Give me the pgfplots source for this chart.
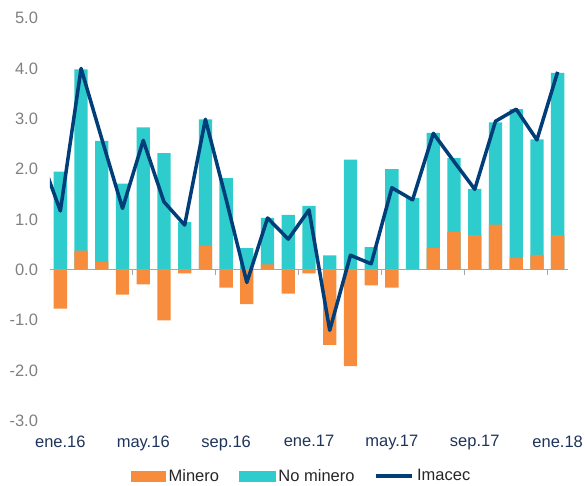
\documentclass[border=0pt]{standalone}
\usepackage{pgfplots}
\pgfplotsset{compat=1.18}
\usepackage{pgfplotstable}
\usepackage{fontspec}
\setmainfont{Liberation Sans}
\definecolor{orangec}{RGB}{247,140,60}
\definecolor{cyanc}{RGB}{46,204,204}
\definecolor{imacec}{RGB}{0,61,121}
\definecolor{ylab}{RGB}{128,128,128}
\definecolor{xlab}{RGB}{31,52,90}
\definecolor{axgray}{RGB}{166,166,166}

\pgfplotstableread{
x min nm
0 -0.77 1.95
1 0.38 3.60
2 0.16 2.40
3 -0.49 1.71
4 -0.29 2.83
5 -1.00 2.32
6 -0.07 0.95
7 0.48 2.51
8 -0.35 1.82
9 -0.68 0.43
10 0.11 0.92
11 -0.47 1.09
12 -0.07 1.27
13 -1.49 0.29
14 -1.91 2.19
15 -0.31 0.45
16 -0.35 2.00
17 0.00 1.43
18 0.43 2.29
19 0.75 1.47
20 0.69 0.92
21 0.90 2.03
22 0.24 2.95
23 0.30 2.29
24 0.69 3.22
}\bars

\pgfplotstableread{
x y
-1 2.30
0 1.17
1 4.00
2 2.60
3 1.22
4 2.57
5 1.35
6 0.89
7 2.99
8 1.40
9 -0.25
10 1.03
11 0.61
12 1.19
13 -1.20
14 0.29
15 0.12
16 1.63
17 1.39
18 2.71
19 2.15
20 1.60
21 2.95
22 3.19
23 2.58
24 3.93
}\imac

\begin{document}
\begin{tikzpicture}
\begin{axis}[
  at={(0,0)}, anchor=south west,
  scale only axis,
  width=518bp, height=403bp,
  xmin=-0.5, xmax=24.5,
  ymin=-3, ymax=5,
  axis line style={draw=none},
  major tick length=0pt,
  tick style={draw=none},
  xtick={0,4,8,12,16,20,24},
  xticklabels={ene.16,may.16,sep.16,ene.17,may.17,sep.17,ene.18},
  ytick={-3,-2,-1,0,1,2,3,4,5},
  /pgf/number format/.cd, fixed, fixed zerofill, precision=1, assume math mode=true,
  /pgfplots/.cd,
  yticklabel style={font=\fontsize{16.5bp}{19bp}\selectfont, text=ylab, xshift=-8.5bp},
  xticklabel style={font=\fontsize{16.5bp}{19bp}\selectfont, text=xlab, yshift=-11bp},
  legend columns=3,
  legend style={at={(rel axis cs:0.487,-0.136)}, anchor=center, draw=none, fill=none,
    font=\fontsize{16.5bp}{19bp}\selectfont, text={black!85},
    nodes={inner xsep=3.5bp},
    /tikz/every even column/.append style={column sep=16bp}},
]
\addlegendimage{legend image code/.code={\fill[orangec] (0bp,-5bp) rectangle (34bp,5bp);}}
\addlegendentry{Minero}
\addlegendimage{legend image code/.code={\fill[cyanc] (0bp,-5bp) rectangle (36bp,5bp);}}
\addlegendentry{No minero}
\addlegendimage{legend image code/.code={\draw[imacec, line width=3.5bp] (0bp,0bp) -- (36bp,0bp);}}
\addlegendentry{Imacec}

\addplot[ybar, bar width=13.3bp, bar shift=0pt, fill=cyanc, draw=none, forget plot]
  table[x=x, y expr={\thisrow{nm}+max(\thisrow{min},0)}] {\bars};
\addplot[ybar, bar width=13.3bp, bar shift=0pt, fill=orangec, draw=none, forget plot]
  table[x=x, y=min] {\bars};

\draw[axgray, line width=1bp] (axis cs:-0.5,0) -- (axis cs:24.5,0);
\draw[axgray, line width=1bp] (axis cs:-0.5,0) -- ([yshift=-5bp]axis cs:-0.5,0);
\draw[axgray, line width=1bp] (axis cs:3.5,0) -- ([yshift=-5bp]axis cs:3.5,0);
\draw[axgray, line width=1bp] (axis cs:7.5,0) -- ([yshift=-5bp]axis cs:7.5,0);
\draw[axgray, line width=1bp] (axis cs:11.5,0) -- ([yshift=-5bp]axis cs:11.5,0);
\draw[axgray, line width=1bp] (axis cs:15.5,0) -- ([yshift=-5bp]axis cs:15.5,0);
\draw[axgray, line width=1bp] (axis cs:19.5,0) -- ([yshift=-5bp]axis cs:19.5,0);
\draw[axgray, line width=1bp] (axis cs:23.5,0) -- ([yshift=-5bp]axis cs:23.5,0);

\addplot[imacec, line width=3.5bp, line join=round, mark=none, forget plot]
  table[x=x, y=y] {\imac};
\end{axis}
\pgfresetboundingbox
\useasboundingbox (-50bp,-65bp) rectangle (535bp,421bp);
\end{tikzpicture}
\end{document}
